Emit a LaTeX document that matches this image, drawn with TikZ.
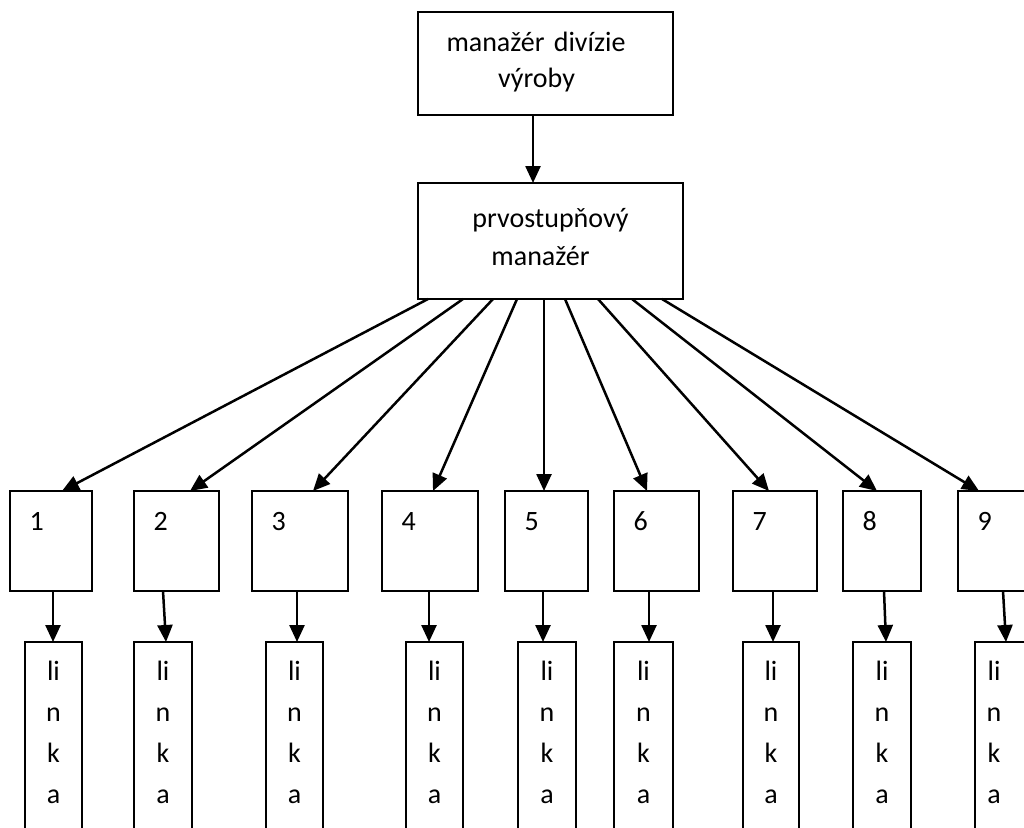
\documentclass[tikz,border=0pt]{standalone}
\usepackage{fontspec}
\setmainfont{Carlito}
\usetikzlibrary{arrows.meta}
\begin{document}
\begin{tikzpicture}[x=1pt,y=-1pt,
  box/.style={draw, line width=2pt, outer sep=0pt, inner sep=0pt, anchor=north west},
  numbox/.style={box, align=left, inner xsep=19.5pt, text height=39pt, text depth=61pt, font=\fontsize{28}{34}\selectfont},
  linkabox/.style={box, align=center, text height=38pt, text depth=230pt, font=\fontsize{28}{41}\selectfont},
  conn/.style={line width=2.5pt, -{Triangle[length=17pt,width=15pt]}}]
\useasboundingbox (0,0) rectangle (1024,827);
\clip (0,0) rectangle (1024,827);
\node[box, text width=255pt, align=center, text height=39pt, text depth=64pt, font=\fontsize{28}{36}\selectfont] (top) at (418,12) {\mbox{manažér divízie\kern19pt}\\\mbox{výroby\kern18pt}};
\node[box, text width=265pt, align=center, text height=44pt, text depth=72pt, font=\fontsize{28}{38}\selectfont] (mgr) at (418,183) {prvostupňový\\\mbox{manažér\kern20pt}};
\node[numbox, text width=43pt] (n1) at (10,491) {1};
\node[numbox, text width=46pt] (n2) at (134,491) {2};
\node[numbox, text width=57pt] (n3) at (252,491) {3};
\node[numbox, text width=57pt] (n4) at (382,491) {4};
\node[numbox, text width=44pt] (n5) at (505,491) {5};
\node[numbox, text width=46pt] (n6) at (614,491) {6};
\node[numbox, text width=45pt] (n7) at (733,491) {7};
\node[numbox, text width=39pt] (n8) at (843,491) {8};
\node[numbox, text width=43pt] (n9) at (958,491) {9};
\node[linkabox, text width=57pt] (l1) at (25,642) {li\\n\\k\\a};
\node[linkabox, text width=58pt] (l2) at (134,642) {li\\n\\k\\a};
\node[linkabox, text width=57pt] (l3) at (266,642) {li\\n\\k\\a};
\node[linkabox, text width=57pt] (l4) at (406,642) {li\\n\\k\\a};
\node[linkabox, text width=58pt] (l5) at (518,642) {li\\n\\k\\a};
\node[linkabox, text width=59pt] (l6) at (614,642) {li\\n\\k\\a};
\node[linkabox, text width=56pt] (l7) at (743,642) {li\\n\\k\\a};
\node[linkabox, text width=58pt] (l8) at (853,642) {li\\n\\k\\a};
\node[linkabox, text width=65pt] (l9) at (975,642) {\mbox{li\kern27pt}\\\mbox{n\kern27pt}\\\mbox{k\kern27pt}\\\mbox{a\kern27pt}};
\draw[conn] ([xshift=115pt]top.south west) -- ([xshift=115pt]mgr.north west);
\foreach \i/\s/\e in {1/10/52, 2/45/56, 3/75/61, 4/99/51, 5/126/39, 6/147/33, 7/180/36, 8/214/34, 9/244/21}
  \draw[conn] ([xshift=\s pt]mgr.south west) -- ([xshift=\e pt]n\i.north west);
\foreach \i/\a/\b in {1/43/28, 2/29/32, 3/45/31, 4/47/23, 5/38/25, 6/35/35, 7/40/30, 8/41/33, 9/45/31}
  \draw[conn] ([xshift=\a pt]n\i.south west) -- ([xshift=\b pt]l\i.north west);
\end{tikzpicture}
\end{document}
